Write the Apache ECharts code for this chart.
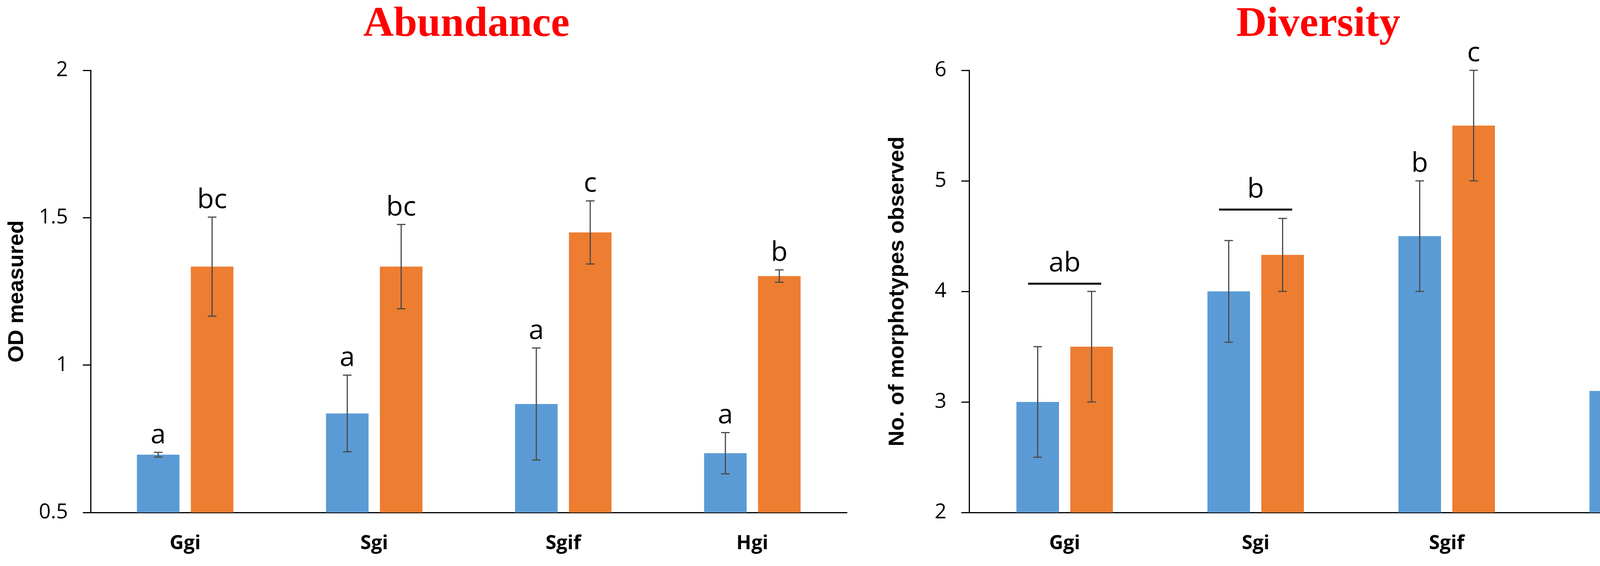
<!DOCTYPE html>
<html>
<head>
<meta charset="utf-8">
<script src="https://cdn.jsdelivr.net/npm/echarts@6/dist/echarts.min.js"></script>
<style>
html,body{margin:0;padding:0;background:#fff;}
#chart{width:4376px;height:1449px;}
</style>
</head>
<body>
<div id="chart"></div>
<script>
// ---------- DATA ----------
const categories = ['Ggi', 'Sgi', 'Sgif', 'Hgi'];
const yTicksAbundance = [0.5, 1, 1.5, 2];
const yTicksDiversity = [2, 3, 4, 5, 6];

const abundanceBlue      = [0.696, 0.836, 0.868, 0.701];
const abundanceBlueErr   = [0.008, 0.130, 0.190, 0.070];
const abundanceOrange    = [1.334, 1.334, 1.450, 1.302];
const abundanceOrangeErr = [0.168, 0.143, 0.107, 0.021];
const abundanceBlueLetters   = ['a', 'a', 'a', 'a'];
const abundanceOrangeLetters = ['bc', 'bc', 'c', 'b'];

const diversityBlue      = [3.0, 4.0, 4.5, 3.1];
const diversityBlueErr   = [0.50, 0.46, 0.50, 0.33];
const diversityOrange    = [3.5, 4.33, 5.5, 3.5];
const diversityOrangeErr = [0.50, 0.33, 0.50, 0.27];
const diversityBlueLetters   = ['', '', 'b', ''];
const diversityOrangeLetters = ['', '', 'c', ''];
const diversityGroupLetters  = ['ab', 'b', '', 'a'];
const diversityGroupLevel    = [4.07, 4.74, null, 3.84];

// ---------- STYLE ----------
const BLUE = '#5B9BD5', ORANGE = '#ED7D31';
const BAR_W = 109, BAR_GAP = 29;
const HALF_STEP = (BAR_W + BAR_GAP) / 2;
const ERR_COLOR = '#4a4a4a';
const LETTER_FONT = 'Open Sans';

function errData(vals, errs) {
  return vals.map((v, i) => [i, v, errs[i]]);
}

function errRenderer(offset, letters) {
  return function (params, api) {
    const idx = api.value(0), v = api.value(1), e = api.value(2);
    const letter = letters[params.dataIndex];
    const c = api.coord([idx, v]);
    const x = c[0] + offset;
    const yTop = api.coord([idx, v + e])[1];
    const yBot = api.coord([idx, v - e])[1];
    const cap = 11;
    const st = { stroke: ERR_COLOR, lineWidth: 3 };
    const children = [
      { type: 'line', shape: { x1: x, y1: yTop, x2: x, y2: yBot }, style: st },
      { type: 'line', shape: { x1: x - cap, y1: yTop, x2: x + cap, y2: yTop }, style: st },
      { type: 'line', shape: { x1: x - cap, y1: yBot, x2: x + cap, y2: yBot }, style: st }
    ];
    if (letter) {
      children.push({
        type: 'text',
        style: { text: letter, x: x, y: yTop - 8, align: 'center', verticalAlign: 'bottom',
                 fontFamily: LETTER_FONT, fontSize: 70, fill: '#000' }
      });
    }
    return { type: 'group', children: children };
  };
}

function groupRenderer(params, api) {
  const idx = api.value(0), lvl = api.value(1);
  const letter = diversityGroupLetters[params.dataIndex];
  if (lvl == null || isNaN(lvl) || !letter) return null;
  const c = api.coord([idx, lvl]);
  const half = HALF_STEP + BAR_W / 2 - 30;
  return {
    type: 'group',
    children: [
      { type: 'line', shape: { x1: c[0] - half, y1: c[1], x2: c[0] + half, y2: c[1] },
        style: { stroke: '#000', lineWidth: 5 } },
      { type: 'text', style: { text: letter, x: c[0], y: c[1] - 16, align: 'center', verticalAlign: 'bottom',
                               fontFamily: LETTER_FONT, fontSize: 70, fill: '#000' } }
    ]
  };
}

function xAxisCfg(g) {
  return {
    type: 'category', gridIndex: g, data: categories,
    axisLine: { lineStyle: { color: '#000', width: 3 } },
    axisTick: { show: false },
    axisLabel: { fontFamily: 'Open Sans', fontWeight: 'bold', fontSize: 50, color: '#000', margin: 55 }
  };
}
function yAxisCfg(g, ticks, name, gap) {
  return {
    type: 'value', gridIndex: g,
    min: ticks[0], max: ticks[ticks.length - 1], interval: ticks[1] - ticks[0],
    name: name, nameLocation: 'middle', nameGap: gap,
    nameTextStyle: { fontFamily: 'Liberation Sans', fontWeight: 'bold', fontSize: 56, color: '#000' },
    axisLine: { show: true, lineStyle: { color: '#000', width: 3 } },
    axisTick: { show: true, length: 20, lineStyle: { color: '#000', width: 3 } },
    splitLine: { show: false },
    axisLabel: { fontFamily: 'Open Sans', fontSize: 53, color: '#000', margin: 58 }
  };
}
function barCfg(axisIdx, vals, color) {
  return {
    type: 'bar', xAxisIndex: axisIdx, yAxisIndex: axisIdx, data: vals,
    barWidth: BAR_W, barGap: (BAR_GAP / BAR_W * 100).toFixed(1) + '%',
    itemStyle: { color: color }, z: 2
  };
}
function errCfg(axisIdx, vals, errs, letters, offset) {
  return {
    type: 'custom', xAxisIndex: axisIdx, yAxisIndex: axisIdx,
    data: errData(vals, errs), renderItem: errRenderer(offset, letters),
    clip: false, z: 5, silent: true
  };
}

const chart = echarts.init(document.getElementById('chart'), null, { renderer: 'canvas' });
chart.setOption({
  animation: false,
  backgroundColor: '#fff',
  title: [
    { text: 'Abundance', left: 930, top: 10, padding: 0,
      textStyle: { fontFamily: 'Liberation Serif', fontWeight: 'bold', fontSize: 108, color: '#ff0000' } },
    { text: 'Diversity', left: 3165, top: 10, padding: 0,
      textStyle: { fontFamily: 'Liberation Serif', fontWeight: 'bold', fontSize: 108, color: '#ff0000' } }
  ],
  grid: [
    { left: 232, width: 1936, top: 180, bottom: 137, containLabel: false, outerBoundsMode: 'none' },
    { left: 2481, width: 1956, top: 180, bottom: 137, containLabel: false, outerBoundsMode: 'none' }
  ],
  xAxis: [xAxisCfg(0), xAxisCfg(1)],
  yAxis: [
    yAxisCfg(0, yTicksAbundance, 'OD measured', 160),
    yAxisCfg(1, yTicksDiversity, 'No. of morphotypes observed', 155)
  ],
  graphic: [
    { type: 'rect', left: 4346, top: 1290, z: 100, shape: { width: 40, height: 40 }, style: { fill: '#fff' } }
  ],
  series: [
    barCfg(0, abundanceBlue, BLUE),
    barCfg(0, abundanceOrange, ORANGE),
    errCfg(0, abundanceBlue, abundanceBlueErr, abundanceBlueLetters, -HALF_STEP),
    errCfg(0, abundanceOrange, abundanceOrangeErr, abundanceOrangeLetters, HALF_STEP),
    barCfg(1, diversityBlue, BLUE),
    barCfg(1, diversityOrange, ORANGE),
    errCfg(1, diversityBlue, diversityBlueErr, diversityBlueLetters, -HALF_STEP),
    errCfg(1, diversityOrange, diversityOrangeErr, diversityOrangeLetters, HALF_STEP),
    {
      type: 'custom', xAxisIndex: 1, yAxisIndex: 1,
      data: diversityGroupLevel.map((l, i) => [i, l]),
      renderItem: groupRenderer, clip: false, z: 6, silent: true
    }
  ]
});
</script>
</body>
</html>
